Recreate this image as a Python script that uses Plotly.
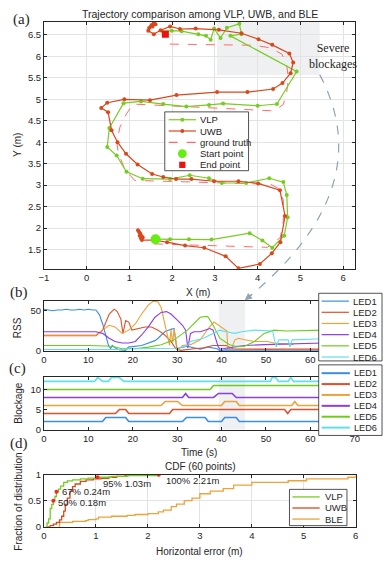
import plotly.graph_objects as go

W, H = 388, 563
FRAME = "#262626"
GRID = "#e3e3e3"
SHADE = "#eef0f2"

# ---------------- (a) trajectories ----------------
VLP_X = [1.61, 1.95, 2.39, 2.92, 3.81, 4.11, 4.34, 4.62, 4.70, 4.68, 4.60, 4.27, 3.73, 3.16, 2.86,
         2.41, 1.95, 1.31, 0.93, 0.70, 0.48, 0.53, 0.86, 1.27, 1.79, 2.33, 2.86, 3.19, 4.00, 4.45,
         4.91, 3.36, 3.62, 3.57, 3.28, 3.13, 2.98, 2.90, 2.79, 2.61, 2.22, 1.99, 1.77]
VLP_Y = [1.74, 1.74, 1.74, 1.73, 1.88, 1.71, 1.54, 1.82, 2.25, 2.77, 3.07, 3.16, 3.05, 3.05, 3.16,
         3.23, 3.14, 3.15, 3.31, 3.69, 3.89, 4.33, 4.91, 4.95, 4.89, 4.83, 4.87, 4.90, 4.85, 4.89,
         5.65, 6.48, 6.52, 6.76, 6.67, 6.43, 6.65, 6.39, 6.48, 6.52, 6.59, 6.60, 6.59]

UWB_X = [1.20, 1.23, 1.26, 1.24, 1.29, 1.27, 1.31, 1.29, 1.55, 1.88, 2.30, 2.75, 3.25, 3.55, 4.05,
         4.33, 4.53, 4.64, 4.52, 4.01, 3.55, 2.98, 2.45, 2.09, 1.79, 1.53, 1.19, 0.92, 0.72, 0.58,
         0.50, 0.34, 0.48, 0.88, 1.48, 2.10, 3.05, 3.76, 4.36, 4.58, 4.77, 4.83, 4.74, 4.34, 4.02,
         3.62, 3.09, 2.55, 2.18, 1.95, 1.73, 1.57, 1.44, 1.50, 1.46, 1.57, 1.54, 1.61, 1.52]
UWB_Y = [1.95, 1.90, 1.86, 1.82, 1.80, 1.76, 1.78, 1.72, 1.72, 1.67, 1.59, 1.54, 1.34, 1.06, 1.16,
         1.41, 1.67, 2.28, 2.88, 3.04, 3.09, 3.09, 3.14, 3.14, 3.19, 3.26, 3.48, 3.73, 4.00, 4.28,
         4.70, 4.80, 4.92, 5.00, 4.98, 5.10, 5.17, 5.17, 5.24, 5.38, 5.61, 5.86, 6.07, 6.27, 6.40,
         6.54, 6.62, 6.65, 6.64, 6.70, 6.61, 6.52, 6.60, 6.70, 6.66, 6.78, 6.70, 6.75, 6.73]

GT_X = [1.57, 4.23, 4.53, 4.60, 4.60, 4.49, 4.30, 1.12, 0.89, 0.74, 0.70, 0.78, 0.93, 1.08, 4.38,
        4.60, 4.68, 4.72, 4.68, 4.57, 4.30, 3.92, 1.77]
GT_Y = [1.63, 1.55, 1.78, 2.16, 2.65, 2.92, 3.02, 3.11, 3.37, 3.75, 4.02, 4.36, 4.66, 4.89, 4.73,
        4.88, 5.18, 5.48, 5.78, 6.05, 6.20, 6.26, 6.29]

START_X, START_Y = [1.61], [1.74]
END_X, END_Y = [1.84], [6.52]

# ---------------- (b) RSS ----------------
LED_NAMES = ["LED1", "LED2", "LED3", "LED4", "LED5", "LED6"]
LED_COLORS = ["#3a8ee6", "#e0502a", "#eba33a", "#8a3ee6", "#6ccc1e", "#5fe0ea"]

RSS1_T = [0, 1, 2, 3, 4, 5, 6, 7, 8, 9, 10, 11, 11.7, 12.5, 13.2, 13.9, 14.5, 15.0, 15.4, 16.0, 16.9,
          18.4, 19.0, 22.0, 25.0, 25.7, 27.2, 28.6, 29.3, 29.9, 30.8, 32.3, 33.8, 35.2, 37.0, 39.0,
          39.6, 41, 45, 50, 55, 60, 63]
RSS1_V = [52, 51, 50, 51, 51, 52, 51, 51, 52, 51, 52, 51, 51, 45, 34, 20, 7.5, 3, 7, 4, 1.6,
          1, 5, 7, 13, 16, 24, 27, 28, 3, 4, 6, 4, 2.5, 5, 3, 0.5, 1.5, 1, 1.5, 1, 1.5, 1]
RSS2_T = [0, 4, 8, 11.7, 13.2, 13.9, 14.7, 15.8, 16.5, 17.3, 17.8, 18.4, 19.1, 19.8, 21.3, 22.8,
          24.2, 25.7, 27.2, 28.6, 29.7, 30.8, 33.8, 36, 38, 41, 42.5, 45, 50, 55, 60, 63]
RSS2_V = [19, 19, 19, 19, 26, 36, 46, 52, 49, 40, 22, 38, 36, 26, 28, 30, 30, 26, 20, 12, 3, 1,
          3, 4, 7, 7, 3, 2.5, 2.5, 2.5, 2.5, 2.5]
RSS3_T = [0, 4, 8, 11.7, 13.2, 14.7, 16.0, 17.6, 19.1, 20.6, 22.0, 23.5, 24.6, 25.7, 26.4, 27.2,
          27.9, 28.3, 28.6, 29.0, 29.3, 30.1, 31.2, 33.0, 35.2, 37, 38.3, 40, 41.2, 41.4, 42.3,
          43.0, 43.8, 45.2, 47.4, 50.3, 51.8, 56.2]
RSS3_V = [20, 20, 20, 20, 26, 32, 30, 22, 26, 34, 46, 57, 62, 61, 54, 34, 20, 7, 26, 10, 28, 1,
          7, 8, 14, 28, 36, 30, 25, 2.5, 4, 14, 16, 14, 12, 12, 10, 8]
RSS4_T = [0, 4, 8, 11.7, 13.2, 14.7, 16, 17.6, 19.1, 20.6, 22, 23.5, 25, 26.4, 27.6, 28.6, 30.1,
          31.2, 31.9, 32.4, 33, 33.8, 35.2, 37.4, 38.1, 39.2, 39.6, 41, 43, 45.2, 49.6, 54.7, 61.3, 63]
RSS4_V = [24, 24, 24, 24, 22, 16, 12, 10, 10, 12, 20, 30, 42, 48, 49, 46, 38, 32, 26, 4, 22, 24,
          24, 28, 26, 6, 2.4, 3.6, 6, 7, 8, 9, 10, 10]
RSS5_T = [0, 5, 10, 15.4, 17.6, 20.6, 23.5, 26.4, 29.3, 32.3, 35.2, 36.7, 37, 38.1, 39.6, 41.8,
          43, 45.2, 47.4, 49.6, 51.8, 54.7, 61.3, 63]
RSS5_V = [7, 7, 7, 6, 3, 3, 5, 8, 14, 26, 42, 43, 42, 32, 16, 8, 6, 6, 12, 22, 26, 25, 26, 26]
RSS6_T = [0, 5, 10, 15, 18, 19, 24, 30.1, 32.3, 33, 35.9, 38, 39.6, 41, 43, 44.5, 47.4, 51.5,
          52.3, 52.9, 55.0, 55.4, 55.9, 61.3, 63]
RSS6_V = [2, 2, 2, 2, 2, 3, 3, 3.6, 7, 12, 16, 22, 26, 24, 22, 24, 26, 25, 5, 14, 14, 5, 14, 15, 15]

# ---------------- (c) blockage ----------------
BLK1_T = [0, 13.2, 13.9, 18.4, 19.1, 31.2, 32.1, 36.3, 37.0, 40.0, 40.7, 43.3, 44.0, 63]
BLK1_V = [2, 2, 3, 3, 2, 2, 3, 3, 2, 2, 3, 3, 2, 2]
BLK2_T = [0, 16.1, 17.0, 18.4, 19.1, 28.3, 29.0, 54.2, 54.9, 55.6, 63]
BLK2_V = [4, 4, 5, 5, 4, 4, 5, 5, 4, 5, 5]
BLK3_T = [0, 26.4, 27.3, 30.1, 31.2, 40.0, 40.7, 43.3, 44.0, 55.8, 56.5, 57.2, 63]
BLK3_V = [6, 6, 7, 7, 6, 6, 7, 7, 6, 6, 7, 6, 6]
BLK4_T = [0, 31.2, 31.9, 32.6, 38.2, 39.3, 42.4, 43.3, 63]
BLK4_V = [8, 8, 9, 8, 8, 9, 9, 8, 8]
BLK5_T = [0, 37.4, 38.2, 63]
BLK5_V = [10, 10, 11, 11]
BLK6_T = [0, 11.4, 12.1, 13.2, 14.5, 15.2, 16.9, 18.0, 51.0, 51.4, 52.2, 52.8, 55.0, 55.6, 56.2, 63]
BLK6_V = [12, 12, 13, 12, 12, 13, 13, 12, 12, 13, 13, 12, 12, 13, 12, 12]

# ---------------- (d) CDF ----------------
CDF_VLP_E = [0.03, 0.06, 0.09, 0.12, 0.15, 0.18, 0.21, 0.24, 0.28, 0.32, 0.38, 0.45, 0.55, 0.70,
             0.85, 1.03, 1.30, 1.60, 2.21]
CDF_VLP_F = [0, 0.07, 0.15, 0.35, 0.43, 0.50, 0.58, 0.67, 0.72, 0.78, 0.85, 0.88, 0.90, 0.917,
             0.933, 0.95, 0.967, 0.983, 1.0]
CDF_UWB_E = [0.06, 0.12, 0.18, 0.24, 0.30, 0.34, 0.38, 0.41, 0.45, 0.50, 0.55, 0.60, 0.70, 0.81,
             0.95, 1.10, 1.25, 1.40, 1.56, 1.63]
CDF_UWB_F = [0, 0.02, 0.05, 0.08, 0.13, 0.20, 0.30, 0.43, 0.55, 0.68, 0.77, 0.82, 0.87, 0.90,
             0.92, 0.93, 0.95, 0.967, 0.983, 1.0]
CDF_BLE_E = [0.28, 0.30, 0.55, 0.80, 0.85, 1.00, 1.05, 1.30, 1.60, 1.75, 2.00, 2.20, 2.30, 2.45,
             2.55, 2.70, 2.85, 3.00, 3.20, 3.45, 3.65, 4.00, 4.70, 5.05, 5.85, 6.00]
CDF_BLE_F = [0, 0.083, 0.10, 0.117, 0.133, 0.15, 0.183, 0.20, 0.217, 0.233, 0.25, 0.283, 0.317,
             0.383, 0.433, 0.50, 0.55, 0.633, 0.683, 0.733, 0.80, 0.85, 0.883, 0.917, 0.95, 0.983]
MARK_E = [0.18, 0.24, 1.03, 2.21]
MARK_F = [0.50, 0.67, 0.95, 1.0]
MARK_TXT = ["50% 0.18m", "67% 0.24m", "95% 1.03m", "100% 2.21m"]
MARK_TXT_E = [0.24, 0.30, 1.10, 2.31]
MARK_TXT_F = [0.47, 0.67, 0.83, 0.89]

VLP_C, UWB_C, BLE_C, GT_C = "#77cc22", "#d9481c", "#eba33a", "#ff6b6b"


def fx(p):
    return p / W


def fy(p):
    return 1 - p / H


fig = go.Figure()

# (a)
fig.add_trace(go.Scatter(x=GT_X, y=GT_Y, mode="lines", line=dict(color=GT_C, width=1, dash="dash"),
                         xaxis="x", yaxis="y"))
fig.add_trace(go.Scatter(x=VLP_X, y=VLP_Y, mode="lines+markers", line=dict(color=VLP_C, width=1.2),
                         marker=dict(size=4, color=VLP_C), xaxis="x", yaxis="y"))
fig.add_trace(go.Scatter(x=UWB_X, y=UWB_Y, mode="lines+markers", line=dict(color=UWB_C, width=1.2),
                         marker=dict(size=4, color=UWB_C), xaxis="x", yaxis="y"))
fig.add_trace(go.Scatter(x=START_X, y=START_Y, mode="markers", marker=dict(size=10, color="#66ee11"),
                         xaxis="x", yaxis="y"))
fig.add_trace(go.Scatter(x=END_X, y=END_Y, mode="markers",
                         marker=dict(size=7, color="#ee1111", symbol="square"), xaxis="x", yaxis="y"))

# (b)
rss = [(RSS1_T, RSS1_V), (RSS2_T, RSS2_V), (RSS3_T, RSS3_V), (RSS4_T, RSS4_V), (RSS5_T, RSS5_V), (RSS6_T, RSS6_V)]
for (t, v), c in zip(rss, LED_COLORS):
    fig.add_trace(go.Scatter(x=t, y=v, mode="lines", line=dict(color=c, width=1.1), xaxis="x2", yaxis="y2"))

# (c)
blk = [(BLK1_T, BLK1_V), (BLK2_T, BLK2_V), (BLK3_T, BLK3_V), (BLK4_T, BLK4_V), (BLK5_T, BLK5_V), (BLK6_T, BLK6_V)]
for (t, v), c in zip(blk, LED_COLORS):
    fig.add_trace(go.Scatter(x=t, y=v, mode="lines", line=dict(color=c, width=1.6), xaxis="x3", yaxis="y3"))

# (d)
for e, f, c in [(CDF_BLE_E, CDF_BLE_F, BLE_C), (CDF_UWB_E, CDF_UWB_F, UWB_C), (CDF_VLP_E, CDF_VLP_F, VLP_C)]:
    fig.add_trace(go.Scatter(x=e, y=f, mode="lines", line=dict(color=c, width=1.3, shape="hv"),
                             xaxis="x4", yaxis="y4"))
fig.add_trace(go.Scatter(x=MARK_E, y=MARK_F, mode="markers", marker=dict(size=4, color="#ff2222"),
                         xaxis="x4", yaxis="y4"))

axis_style = dict(showline=True, linecolor=FRAME, linewidth=0.8, mirror="ticks", ticks="inside",
                  ticklen=3, tickwidth=0.8, tickcolor=FRAME, zeroline=False, showgrid=False,
                  tickfont=dict(size=9.5, color=FRAME), fixedrange=True)
xdom = [fx(40), fx(359)]

shapes, annos = [], []

# shaded blockage areas
shapes.append(dict(type="rect", xref="x", yref="y", x0=3.05, x1=5.45, y0=5.57, y1=6.8,
                   fillcolor=SHADE, line=dict(width=0), layer="below"))
for ya in ["y2", "y3"]:
    shapes.append(dict(type="rect", xref=ya.replace("y", "x"), yref=ya + " domain", x0=39.4, x1=45.3,
                       y0=0, y1=1, fillcolor=SHADE, line=dict(width=0), layer="below"))

# dashed curved arrow
shapes.append(dict(type="path", xref="paper", yref="paper",
                   path=f"M {fx(323)},{fy(70)} Q {fx(385)},{fy(186)} {fx(250)},{fy(297)}",
                   line=dict(color="#8fa3b3", width=1.2, dash="dash"), layer="above"))
annos.append(dict(xref="paper", yref="paper", x=fx(246), y=fy(300), ax=9, ay=-7, text="",
                  showarrow=True, arrowhead=2, arrowsize=1.2, arrowwidth=1.2, arrowcolor="#8fa3b3"))


def legend(box, rows, lx0, lx1, tx, lw, fsize=9.5):
    x0, y0, x1, y1 = box
    shapes.append(dict(type="rect", xref="paper", yref="paper", x0=fx(x0), x1=fx(x1), y0=fy(y1),
                       y1=fy(y0), fillcolor="white", line=dict(color=FRAME, width=0.8), layer="above"))
    for yy, name, color, dash, mk in rows:
        if dash is not None:
            shapes.append(dict(type="line", xref="paper", yref="paper", x0=fx(lx0), x1=fx(lx1),
                               y0=fy(yy), y1=fy(yy), line=dict(color=color, width=lw, dash=dash),
                               layer="above"))
        xm = (lx0 + lx1) / 2
        if mk is not None:
            kind, r = mk
            shapes.append(dict(type=kind, xref="paper", yref="paper", x0=fx(xm - r), x1=fx(xm + r),
                               y0=fy(yy + r), y1=fy(yy - r), fillcolor=color, line=dict(width=0),
                               layer="above"))
        annos.append(dict(xref="paper", yref="paper", x=fx(tx), y=fy(yy), text=name, showarrow=False,
                          xanchor="left", yanchor="middle", font=dict(size=fsize, color=FRAME)))


legend((164, 108, 250, 168),
       [(116, "VLP", VLP_C, "solid", ("circle", 2)),
        (127.5, "UWB", UWB_C, "solid", ("circle", 2)),
        (139, "ground truth", GT_C, "dash", None),
        (150.5, "Start point", "#66ee11", None, ("circle", 4.5)),
        (162, "End point", "#ee1111", None, ("rect", 3.2))],
       168, 196, 198, 1.2)
legend((322, 293, 387, 362),
       [(301 + 11.4 * i, n, c, "solid", None) for i, (n, c) in enumerate(zip(LED_NAMES, LED_COLORS))],
       325, 353, 355, 1.2)
legend((322, 366, 387, 438),
       [(374.5 + 11.1 * i, n, c, "solid", None) for i, (n, c) in enumerate(zip(LED_NAMES, LED_COLORS))],
       325, 354, 356, 2, 9.2)
legend((292, 493, 351, 530),
       [(500.7, "VLP", VLP_C, "solid", None), (512, "UWB", UWB_C, "solid", None),
        (523.3, "BLE", BLE_C, "solid", None)],
       295, 323, 326, 1.3)

# text labels
def txt(x, y, s, size=10, family="Liberation Sans", angle=0, xanchor="center"):
    annos.append(dict(xref="paper", yref="paper", x=fx(x), y=fy(y), text=s, showarrow=False,
                      xanchor=xanchor, yanchor="middle", textangle=angle,
                      font=dict(size=size, family=family, color=FRAME)))


txt(200, 8, "Trajectory comparison among VLP, UWB, and BLE", 10.5)
txt(17, 14, "(a)", 15, "Liberation Serif")
txt(14, 292, "(b)", 15, "Liberation Serif")
txt(13, 370, "(c)", 15, "Liberation Serif")
txt(14, 446, "(d)", 15, "Liberation Serif")
txt(198, 292, "X (m)")
txt(13, 142, "Y (m)", angle=-90)
txt(13, 328, "RSS", angle=-90)
txt(13, 405, "Blockage", angle=-90)
txt(13, 506, "Fraction of distribution", angle=-90)
txt(199, 455, "Time (s)")
txt(201, 470, "CDF (60 points)")
txt(200, 556, "Horizontal error (m)")
txt(310, 51, "Severe<br>blockages", 12, "Liberation Serif", xanchor="left")

for s, xe, yf in zip(MARK_TXT, MARK_TXT_E, MARK_TXT_F):
    annos.append(dict(xref="x4", yref="y4", x=xe, y=yf, text=s, showarrow=False, xanchor="left",
                      yanchor="middle", font=dict(size=9.5, color=FRAME)))

fig.update_layout(
    width=W, height=H, autosize=False, showlegend=False,
    margin=dict(l=0, r=0, t=0, b=0),
    paper_bgcolor="white", plot_bgcolor="white",
    font=dict(family="Liberation Sans", color=FRAME),
    xaxis=dict(axis_style, domain=xdom, range=[-1, 6.27], dtick=1, anchor="y",
               showgrid=True, gridcolor=GRID),
    yaxis=dict(axis_style, domain=[fy(268), fy(16)], range=[1.05, 6.81], dtick=0.5, anchor="x",
               showgrid=True, gridcolor=GRID),
    xaxis2=dict(axis_style, domain=xdom, range=[0, 70], tickvals=[0, 10, 20, 30, 40, 50, 60], anchor="y2"),
    yaxis2=dict(axis_style, domain=[fy(352), fy(301)], range=[0, 62], tickvals=[0, 50], anchor="x2"),
    xaxis3=dict(axis_style, domain=xdom, range=[0, 70], dtick=10, anchor="y3"),
    yaxis3=dict(axis_style, domain=[fy(432), fy(378)], range=[0, 13.2], tickvals=[0, 5, 10], anchor="x3"),
    xaxis4=dict(axis_style, domain=[fx(40), fx(360)], range=[0, 6], dtick=1, anchor="y4",
                showgrid=True, gridcolor=GRID),
    yaxis4=dict(axis_style, domain=[fy(531), fy(478)], range=[0, 1], tickvals=[0, 0.5, 1], anchor="x4",
                showgrid=True, gridcolor=GRID),
    shapes=shapes, annotations=annos,
)

fig.write_html("out.html", config={"displayModeBar": False})

# page body has a default margin; remove it so the figure sits at the top-left corner
with open("out.html", encoding="utf-8") as fh:
    page = fh.read()
page = page.replace("<body>", '<body style="margin:0;padding:0;overflow:hidden">', 1)
with open("out.html", "w", encoding="utf-8") as fh:
    fh.write(page)
